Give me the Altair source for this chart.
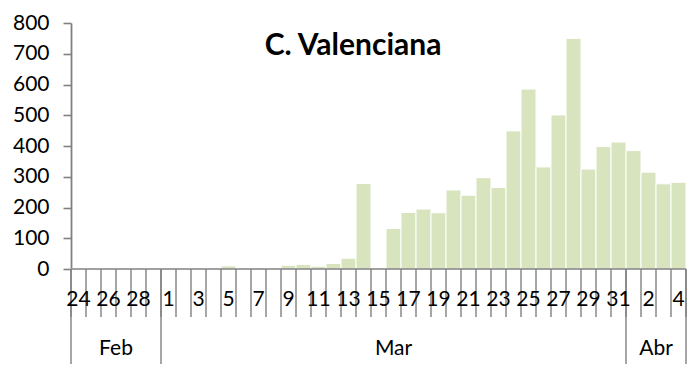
import altair as alt
import pandas as pd

title_text = "C. Valenciana"

days = ["24", "25", "26", "27", "28", "29",
        "1", "2", "3", "4", "5", "6", "7", "8", "9", "10",
        "11", "12", "13", "14", "15", "16", "17", "18", "19", "20",
        "21", "22", "23", "24", "25", "26", "27", "28", "29", "30", "31",
        "1", "2", "3", "4"]
months = ["Feb"] * 6 + ["Mar"] * 31 + ["Abr"] * 4
values = [0, 0, 1, 1, 1, 0,
          0, 1, 0, 1, 10, 1, 3, 2, 12, 15,
          9, 18, 35, 278, 0, 132, 184, 195, 183, 257,
          240, 297, 265, 449, 585, 332, 501, 750, 325, 398, 413,
          385, 315, 277, 282]
y_ticks = [0, 100, 200, 300, 400, 500, 600, 700, 800]

grey = "#808080"
bar_color = "#d7e4bd"
font = "Lato"

df = pd.DataFrame({"day": days, "month": months, "value": values})
df["i"] = range(len(df))
df["i2"] = df["i"] + 1
df["mid"] = df["i"] + 0.5
df["zero"] = 0
lab = df[df["i"] % 2 == 0]

mdf = df.groupby("month", sort=False).agg(start=("i", "min"), end=("i2", "max")).reset_index()
mdf["mid"] = (mdf["start"] + mdf["end"]) / 2
seps = pd.DataFrame({"b": sorted(set(mdf["start"]) | set(mdf["end"]))})
bounds = pd.DataFrame({"b": list(range(len(df) + 1))})

xscale = alt.Scale(domain=[0, len(df)], nice=False, zero=False)
yscale = alt.Scale(domain=[0, 800], nice=False)

bars = alt.Chart(df).mark_bar(color=bar_color, stroke="white", strokeWidth=1).encode(
    x=alt.X("i:Q", scale=xscale, axis=None),
    x2="i2:Q",
    y=alt.Y("value:Q", scale=yscale,
            axis=alt.Axis(values=y_ticks, tickSize=8, labelPadding=14, tickColor=grey,
                          domain=True, ticks=True,
                          domainColor=grey, tickWidth=1.6, domainWidth=1.8,
                          labelFont=font, labelFontSize=21, labelColor="black",
                          title=None, grid=False)),
    y2="zero:Q",
)

# x baseline
baseline = alt.Chart(pd.DataFrame({"a": [0], "b": [len(df)]})).mark_rule(
    color=grey, strokeWidth=1.6).encode(
    x=alt.X("a:Q", scale=xscale, axis=None), x2="b:Q",
    y=alt.value(246),
)

# category boundary ticks
tick_rules = alt.Chart(bounds).mark_rule(color=grey, strokeWidth=1.4).encode(
    x=alt.X("b:Q", scale=xscale, axis=None),
    y=alt.value(246), y2=alt.value(294),
)

sep_rules = alt.Chart(seps).mark_rule(color=grey, strokeWidth=1.4).encode(
    x=alt.X("b:Q", scale=xscale, axis=None),
    y=alt.value(246), y2=alt.value(341),
)

day_text = alt.Chart(lab).mark_text(font=font, fontSize=21, baseline="middle",
                                    align="center", color="black").encode(
    x=alt.X("mid:Q", scale=xscale, axis=None),
    y=alt.value(277),
    text="day:N",
)

month_text = alt.Chart(mdf).mark_text(font=font, fontSize=21, baseline="middle",
                                      align="center", color="black").encode(
    x=alt.X("mid:Q", scale=xscale, axis=None),
    y=alt.value(326),
    text="month:N",
)

title = alt.Chart(pd.DataFrame({"t": [title_text]})).mark_text(
    font=font, fontWeight="bold", fontSize=30, baseline="middle", align="center", color="black"
).encode(x=alt.value(282), y=alt.value(23), text="t:N")

chart = alt.layer(bars, tick_rules, sep_rules, baseline, day_text, month_text, title).properties(
    width=615, height=246,
    padding={"left": 63, "top": 15, "right": 6, "bottom": 105},
    autosize=alt.AutoSizeParams(type="none"),
).configure_view(stroke=None)

chart.save("out.html", embed_options={"renderer": "svg", "actions": False})
